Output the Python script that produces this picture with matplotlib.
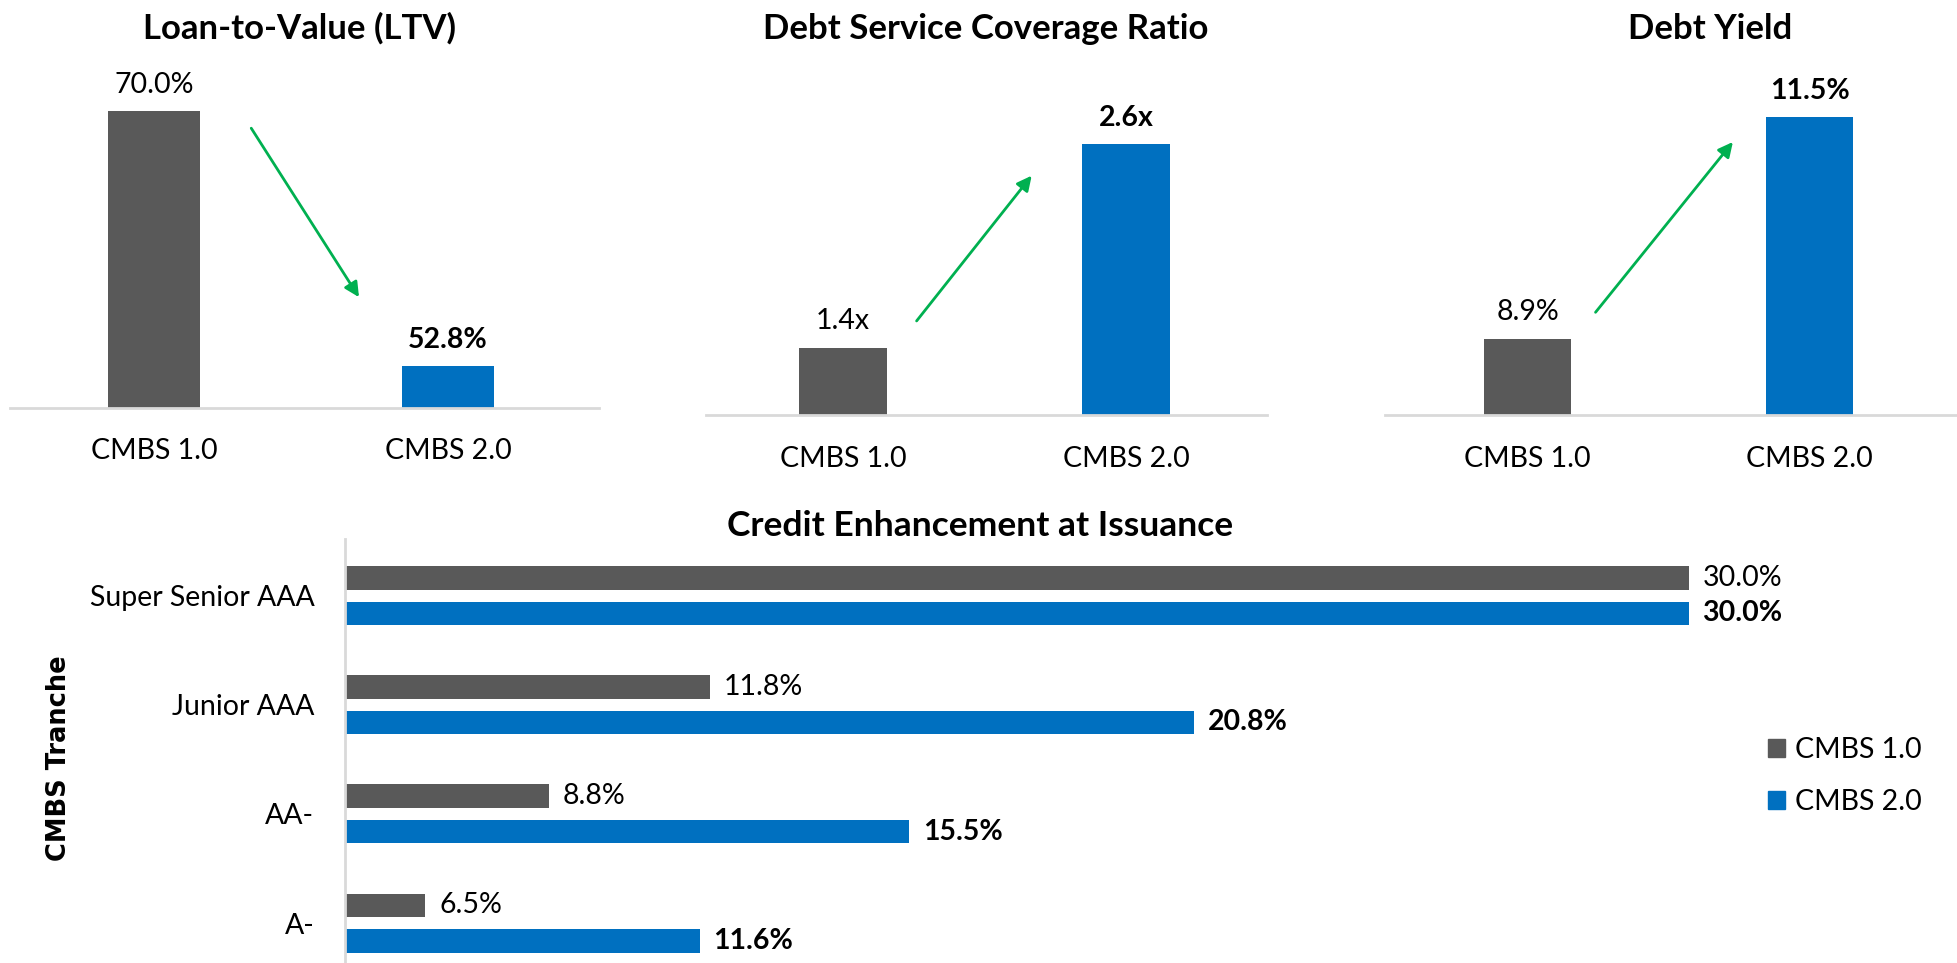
import numpy as np
import matplotlib
matplotlib.use('Agg')
import matplotlib.pyplot as plt
from matplotlib.patches import Patch

plt.rcParams['font.family'] = ['Lato', 'DejaVu Sans']

# ---- data ----
vintages = ['CMBS 1.0', 'CMBS 2.0']
ltv = [70.0, 52.8]
dscr = [1.4, 2.6]
debt_yield = [8.9, 11.5]

tranches = ['Super Senior AAA', 'Junior AAA', 'AA-', 'A-']
ce_cmbs1 = [30.0, 11.8, 8.8, 6.5]
ce_cmbs2 = [30.0, 20.8, 15.5, 11.6]

GRAY = '#595959'
BLUE = '#0070C0'
GREEN = '#00B050'
AXIS = '#D9D9D9'

W, H = 1568, 772  # layout grid units


def box(x0, x1, y_base, h):
    return [x0 / W, 1 - y_base / H, (x1 - x0) / W, h / H]


fig = plt.figure(figsize=(19.57, 9.63), dpi=100)

panels = [
    # title, values, fmt, rect, ylim, xlim, title x, arrow (start, end) in axes fraction
    ('Loan-to-Value (LTV)', ltv, '{:.1f}%', box(8, 480, 327, 297.5), (50, 75), (-0.49, 1.514), 240,
     ((0.407, 0.760), (0.595, 0.292))),
    ('Debt Service Coverage Ratio', dscr, '{:.1f}x', box(566, 1015, 333, 285.6), (1.0, 3.1), (-0.4825, 1.496), 790,
     ((0.372, 0.259), (0.5835, 0.679))),
    ('Debt Yield', debt_yield, '{:.1f}%', box(1110, 1568, 333, 286.9), (8, 12.2), (-0.5044, 1.522), 1370,
     ((0.3646, 0.282), (0.611, 0.770))),
]

x = np.arange(len(vintages))
for title, vals, fmt, rect, ylim, xlim, tx, arrow in panels:
    ax = fig.add_axes(rect)
    bars = ax.bar(x, vals, width=0.31, color=[GRAY, BLUE], bottom=0)
    ax.set_ylim(*ylim)
    ax.set_xlim(*xlim)
    for i, (b, v) in enumerate(zip(bars, vals)):
        ax.annotate(fmt.format(v), (b.get_x() + b.get_width() / 2, v),
                    xytext=(0, 19), textcoords='offset points',
                    ha='center', va='center', fontsize=20.5,
                    fontweight='bold' if i == 1 else 'normal')
    ax.set_xticks(x, vintages)
    ax.set_yticks([])
    ax.tick_params(axis='x', length=0, pad=22, labelsize=20.5)
    for s in ['top', 'right', 'left']:
        ax.spines[s].set_visible(False)
    ax.spines['bottom'].set_color(AXIS)
    ax.spines['bottom'].set_linewidth(2)
    ax.annotate('', xy=arrow[1], xytext=arrow[0], xycoords='axes fraction',
                arrowprops=dict(arrowstyle='-|>', color=GREEN, lw=2, mutation_scale=22))
    fig.text(tx / W, 1 - 23 / H, title, ha='center', va='center',
             fontsize=25, fontweight='bold')

# ---- credit enhancement ----
axh = fig.add_axes(box(276.3, 1439, 772, 340))
y = np.arange(len(tranches))
off, hgt = 0.162, 0.216
b1 = axh.barh(y - off, ce_cmbs1, height=hgt, color=GRAY, label='CMBS 1.0')
b2 = axh.barh(y + off, ce_cmbs2, height=hgt, color=BLUE, label='CMBS 2.0')
axh.set_xlim(5, 32)
axh.set_ylim(3.366, -0.52)
for bars, vals, wt in [(b1, ce_cmbs1, 'normal'), (b2, ce_cmbs2, 'bold')]:
    for b, v in zip(bars, vals):
        axh.annotate(f'{v:.1f}%', (v, b.get_y() + b.get_height() / 2),
                     xytext=(10, 0), textcoords='offset points',
                     ha='left', va='center', fontsize=20.5, fontweight=wt)
axh.set_yticks(y, tranches)
axh.set_xticks([])
axh.tick_params(axis='y', length=0, pad=22, labelsize=20.5)
for s in ['top', 'right', 'bottom']:
    axh.spines[s].set_visible(False)
axh.spines['left'].set_color(AXIS)
axh.spines['left'].set_linewidth(2)

fig.text(785 / W, 1 - 422 / H, 'Credit Enhancement at Issuance', ha='center', va='center',
         fontsize=25.5, fontweight='bold')
fig.text(47 / W, 1 - 608 / H, 'CMBS Tranche', rotation=90, ha='center', va='center',
         fontsize=18.5, fontweight='bold', family='DejaVu Sans')

handles = [Patch(color=GRAY), Patch(color=BLUE)]
fig.legend(handles, vintages, loc='center left', bbox_to_anchor=(1396 / W, 1 - 622 / H),
           frameon=False, fontsize=20.5, handlelength=0.6, handleheight=0.6,
           handletextpad=0.35, labelspacing=0.9)

fig.savefig('out.png', dpi=100)
